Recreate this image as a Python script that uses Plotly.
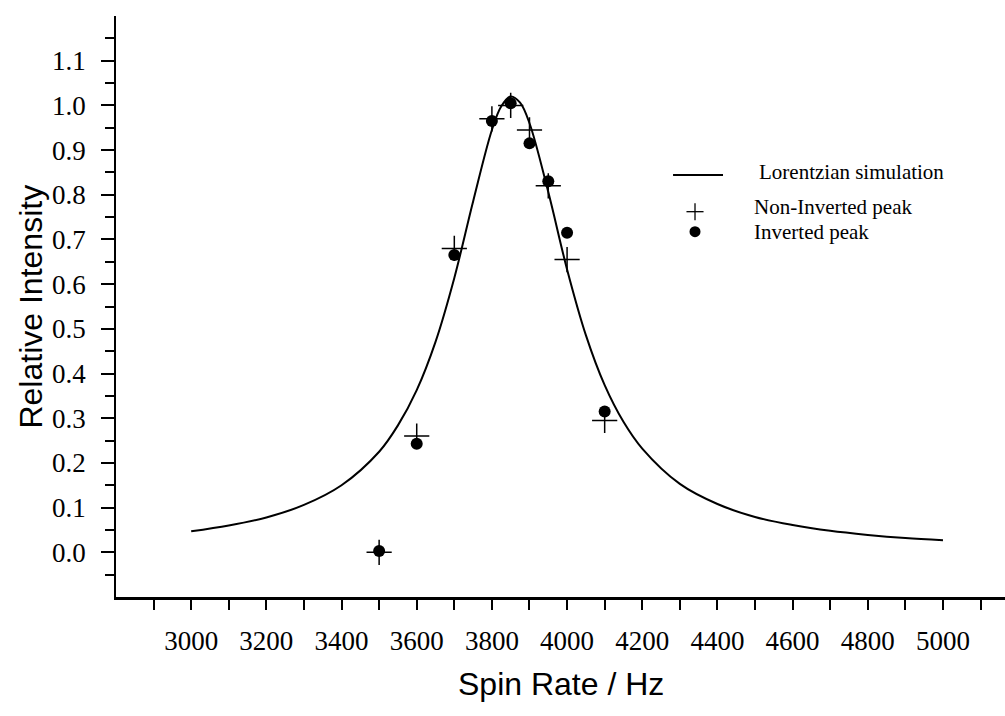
import plotly.graph_objects as go

# Measured relative intensities vs. spin rate
spin_rate = [3500, 3600, 3700, 3800, 3850, 3900, 3950, 4000, 4100]
non_inverted = [0.0, 0.26, 0.68, 0.97, 1.0, 0.945, 0.82, 0.655, 0.295]
inverted = [0.003, 0.243, 0.665, 0.965, 1.005, 0.915, 0.83, 0.715, 0.315]

# Lorentzian simulation curve, sampled
sim_rate = [3000, 3100, 3200, 3300, 3400, 3500, 3550, 3600, 3650, 3700, 3750,
            3800, 3825, 3850, 3875, 3900, 3950, 4000, 4050, 4100, 4150, 4200,
            4300, 4400, 4500, 4600, 4700, 4800, 4900, 5000]
sim_intensity = [0.047, 0.060, 0.078, 0.106, 0.150, 0.225, 0.284, 0.363, 0.471,
                 0.614, 0.785, 0.945, 0.998, 1.020, 1.006, 0.960, 0.806, 0.633,
                 0.486, 0.374, 0.292, 0.232, 0.153, 0.108, 0.079, 0.061, 0.048,
                 0.039, 0.032, 0.027]

# Axis ticks
x_label_vals = [3000, 3200, 3400, 3600, 3800, 4000, 4200, 4400, 4600, 4800, 5000]
x_minor_vals = [2900 + 100 * i for i in range(23)]
y_label_vals = [round(0.1 * i, 1) for i in range(12)]
y_minor_vals = [round(-0.05 + 0.1 * i, 2) for i in range(13)]

legend_labels = ["Lorentzian simulation", "Non-Inverted peak", "Inverted peak"]

SERIF = "Liberation Serif"
SANS = "Liberation Sans"

fig = go.Figure()

fig.add_trace(go.Scatter(
    x=sim_rate, y=sim_intensity, mode="lines", line_shape="spline",
    line=dict(color="black", width=2), name=legend_labels[0], showlegend=False,
))
fig.add_trace(go.Scatter(
    x=spin_rate, y=non_inverted, mode="markers", name=legend_labels[1],
    marker=dict(symbol="cross-thin", size=18, line=dict(color="black", width=1.5)),
    showlegend=False,
))
fig.add_trace(go.Scatter(
    x=spin_rate, y=inverted, mode="markers", name=legend_labels[2],
    marker=dict(symbol="circle", size=12, color="black"),
    showlegend=False,
))

# Hand-drawn key in the upper right
shapes = [
    dict(type="line", xref="paper", yref="paper", x0=0.6266, x1=0.6828,
         y0=0.7263, y1=0.7263, line=dict(color="black", width=2)),
    dict(type="line", xref="paper", yref="paper", x0=0.6513 - 0.0096, x1=0.6513 + 0.0096,
         y0=0.6632, y1=0.6632, line=dict(color="black", width=1.3)),
    dict(type="line", xref="paper", yref="paper", x0=0.6513, x1=0.6513,
         y0=0.6632 - 0.0146, y1=0.6632 + 0.0146, line=dict(color="black", width=1.3)),
    dict(type="circle", xref="paper", yref="paper", x0=0.6513 - 0.0062, x1=0.6513 + 0.0062,
         y0=0.6288 - 0.0095, y1=0.6288 + 0.0095, fillcolor="black",
         line=dict(color="black", width=0)),
]

annotations = [
    dict(text=legend_labels[0], xref="paper", yref="paper", x=0.7210, y=0.7315,
         xanchor="left", yanchor="middle", showarrow=False,
         font=dict(family=SERIF, size=21, color="black")),
    dict(text=legend_labels[1], xref="paper", yref="paper", x=0.7154, y=0.6713,
         xanchor="left", yanchor="middle", showarrow=False,
         font=dict(family=SERIF, size=21, color="black")),
    dict(text=legend_labels[2], xref="paper", yref="paper", x=0.7154, y=0.6282,
         xanchor="left", yanchor="middle", showarrow=False,
         font=dict(family=SERIF, size=21, color="black")),
    dict(text="Relative Intensity", xref="paper", yref="paper", x=-0.0967, y=0.5,
         xanchor="center", yanchor="middle", textangle=-90, showarrow=False,
         font=dict(family=SANS, size=32, color="black")),
    dict(text="Spin Rate / Hz", xref="paper", yref="paper", x=0.5, y=-0.15,
         xanchor="center", yanchor="middle", showarrow=False,
         font=dict(family=SANS, size=32, color="black")),
]

fig.update_layout(
    width=1005, height=716,
    margin=dict(l=116, r=0, t=16, b=119),
    paper_bgcolor="white", plot_bgcolor="white",
    showlegend=False,
    shapes=shapes,
    annotations=annotations,
    xaxis=dict(
        range=[2800, 5165], showgrid=False, zeroline=False,
        showline=True, linecolor="black", linewidth=2.5,
        tickmode="array", tickvals=x_label_vals,
        ticktext=[str(v) for v in x_label_vals],
        ticks="outside", ticklen=10, tickwidth=1.5, tickcolor="black",
        ticklabelstandoff=8,
        tickfont=dict(family=SERIF, size=27, color="black"),
        minor=dict(tickvals=x_minor_vals, ticks="outside", ticklen=10,
                   tickwidth=1.5, tickcolor="black", showgrid=False),
    ),
    yaxis=dict(
        range=[-0.1, 1.2], showgrid=False, zeroline=False,
        showline=True, linecolor="black", linewidth=1.5,
        tickmode="array", tickvals=y_label_vals,
        ticktext=[f"{v:.1f}" for v in y_label_vals],
        ticks="outside", ticklen=13, tickwidth=1.5, tickcolor="black",
        ticklabelstandoff=10,
        tickfont=dict(family=SERIF, size=27, color="black"),
        minor=dict(tickvals=y_minor_vals, ticks="outside", ticklen=9,
                   tickwidth=1.5, tickcolor="black", showgrid=False),
    ),
)

fig.write_html("out.html")
